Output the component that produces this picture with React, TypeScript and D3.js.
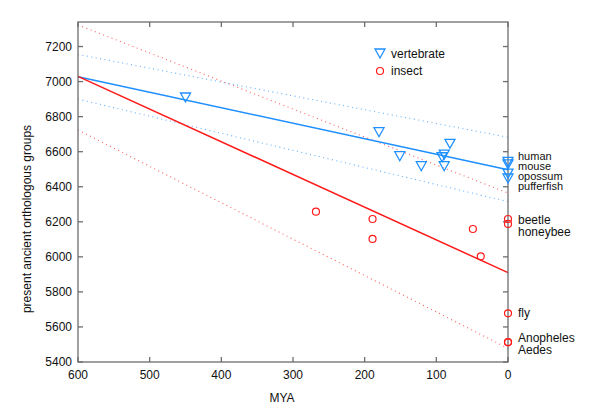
import React, { useEffect, useRef } from 'react';
import * as d3 from 'd3';

// vertebrate genomes: [MYA, groups]
const vertebrates = [
  [450, 6912], [180, 6714], [151, 6577], [121, 6520], [92, 6571], [89, 6586],
  [89, 6520], [81, 6648], [0, 6545], [0, 6530], [0, 6478], [0, 6450],
];
const insects = [
  [268, 6258], [189, 6216], [189, 6102], [49, 6159], [38, 6003],
  [0, 6216], [0, 6188], [0, 5678], [0, 5514], [0, 5512],
];
// fitted lines and bands: value at 600 MYA and at 0 MYA
const vertFit = [[600, 7028], [0, 6497]];
const vertUpper = [[600, 7155], [0, 6682]];
const vertLower = [[600, 6900], [0, 6315]];
const insFit = [[600, 7030], [0, 5910]];
const insUpper = [[600, 7323], [0, 6364]];
const insLower = [[600, 6724], [0, 5478]];

const vertLabels = [['human', 6570], ['mouse', 6517], ['opossum', 6461], ['pufferfish', 6404]];
const insLabels = [['beetle', 6210], ['honeybee', 6143], ['fly', 5678], ['Anopheles', 5535], ['Aedes', 5470]];

const xTicks = [600, 500, 400, 300, 200, 100, 0];
const yTicks = [5400, 5600, 5800, 6000, 6200, 6400, 6600, 6800, 7000, 7200];

const BLUE = '#1e8fff';
const RED = '#ff1a1a';

const App = () => {
  const ref = useRef(null);

  useEffect(() => {
    const svg = d3.select(ref.current);
    svg.selectAll('*').remove();
    const font = 'Liberation Sans, Arial, sans-serif';

    const x = d3.scaleLinear().domain([600, 0]).range([78, 508]);
    const y = d3.scaleLinear().domain([5400, 7340]).range([362, 22]);
    const line = d3.line().x(d => x(d[0])).y(d => y(d[1]));

    // dotted bands
    [[vertUpper, BLUE], [vertLower, BLUE], [insUpper, RED], [insLower, RED]].forEach(([d, c]) => {
      svg.append('path').attr('d', line(d)).attr('fill', 'none')
        .attr('stroke', c).attr('stroke-opacity', 0.7).attr('stroke-width', 1.1)
        .attr('stroke-dasharray', '1,3.5');
    });
    // fit lines
    [[vertFit, BLUE], [insFit, RED]].forEach(([d, c]) => {
      svg.append('path').attr('d', line(d)).attr('fill', 'none')
        .attr('stroke', c).attr('stroke-width', 1.5);
    });

    // frame and ticks
    const g = svg.append('g').attr('stroke', '#6e6e6e').attr('stroke-width', 1.3);
    g.append('rect').attr('x', 78).attr('y', 22).attr('width', 430).attr('height', 340).attr('fill', 'none');
    xTicks.forEach(t => {
      g.append('line').attr('x1', x(t)).attr('x2', x(t)).attr('y1', 362).attr('y2', 357);
      g.append('line').attr('x1', x(t)).attr('x2', x(t)).attr('y1', 22).attr('y2', 27);
    });
    yTicks.forEach(t => {
      g.append('line').attr('x1', 78).attr('x2', 83).attr('y1', y(t)).attr('y2', y(t));
      g.append('line').attr('x1', 508).attr('x2', 503).attr('y1', y(t)).attr('y2', y(t));
    });

    const txt = svg.append('g').attr('font-family', font).attr('font-size', 12).attr('fill', '#111');
    xTicks.forEach(t => {
      txt.append('text').attr('x', x(t)).attr('y', 379).attr('text-anchor', 'middle').text(t);
    });
    yTicks.forEach(t => {
      txt.append('text').attr('x', 72).attr('y', y(t) + 4).attr('text-anchor', 'end').text(t);
    });
    txt.append('text').attr('x', 282).attr('y', 402).attr('text-anchor', 'middle').text('MYA');
    txt.append('text').attr('transform', 'translate(31,219) rotate(-90)')
      .attr('text-anchor', 'middle').text('present ancient orthologous groups');

    // markers
    const tri = (cx, cy) => `M${cx - 5},${cy - 4}L${cx + 5},${cy - 4}L${cx},${cy + 5}Z`;
    svg.append('g').selectAll('path').data(vertebrates).join('path')
      .attr('d', d => tri(x(d[0]), y(d[1])))
      .attr('fill', 'none').attr('stroke', BLUE).attr('stroke-width', 1.3);
    svg.append('g').selectAll('circle').data(insects).join('circle')
      .attr('cx', d => x(d[0])).attr('cy', d => y(d[1])).attr('r', 3.5)
      .attr('fill', 'none').attr('stroke', RED).attr('stroke-width', 1.2);

    // species labels (stacked tightly, as in the original)
    vertLabels.forEach(([name, v]) => {
      txt.append('text').attr('x', 518).attr('y', y(v) + 3.5).attr('font-size', 11).text(name);
    });
    insLabels.forEach(([name, v]) => {
      txt.append('text').attr('x', 518).attr('y', y(v) + 4).text(name);
    });

    // legend
    svg.append('path').attr('d', tri(380, 53)).attr('fill', 'none').attr('stroke', BLUE).attr('stroke-width', 1.3);
    svg.append('circle').attr('cx', 380).attr('cy', 71).attr('r', 3.5)
      .attr('fill', 'none').attr('stroke', RED).attr('stroke-width', 1.2);
    txt.append('text').attr('x', 391).attr('y', 58).text('vertebrate');
    txt.append('text').attr('x', 391).attr('y', 75).text('insect');
  }, []);

  return <svg ref={ref} width={600} height={412} style={{ position: 'absolute', left: 0, top: 0 }} />;
};

export default App;
